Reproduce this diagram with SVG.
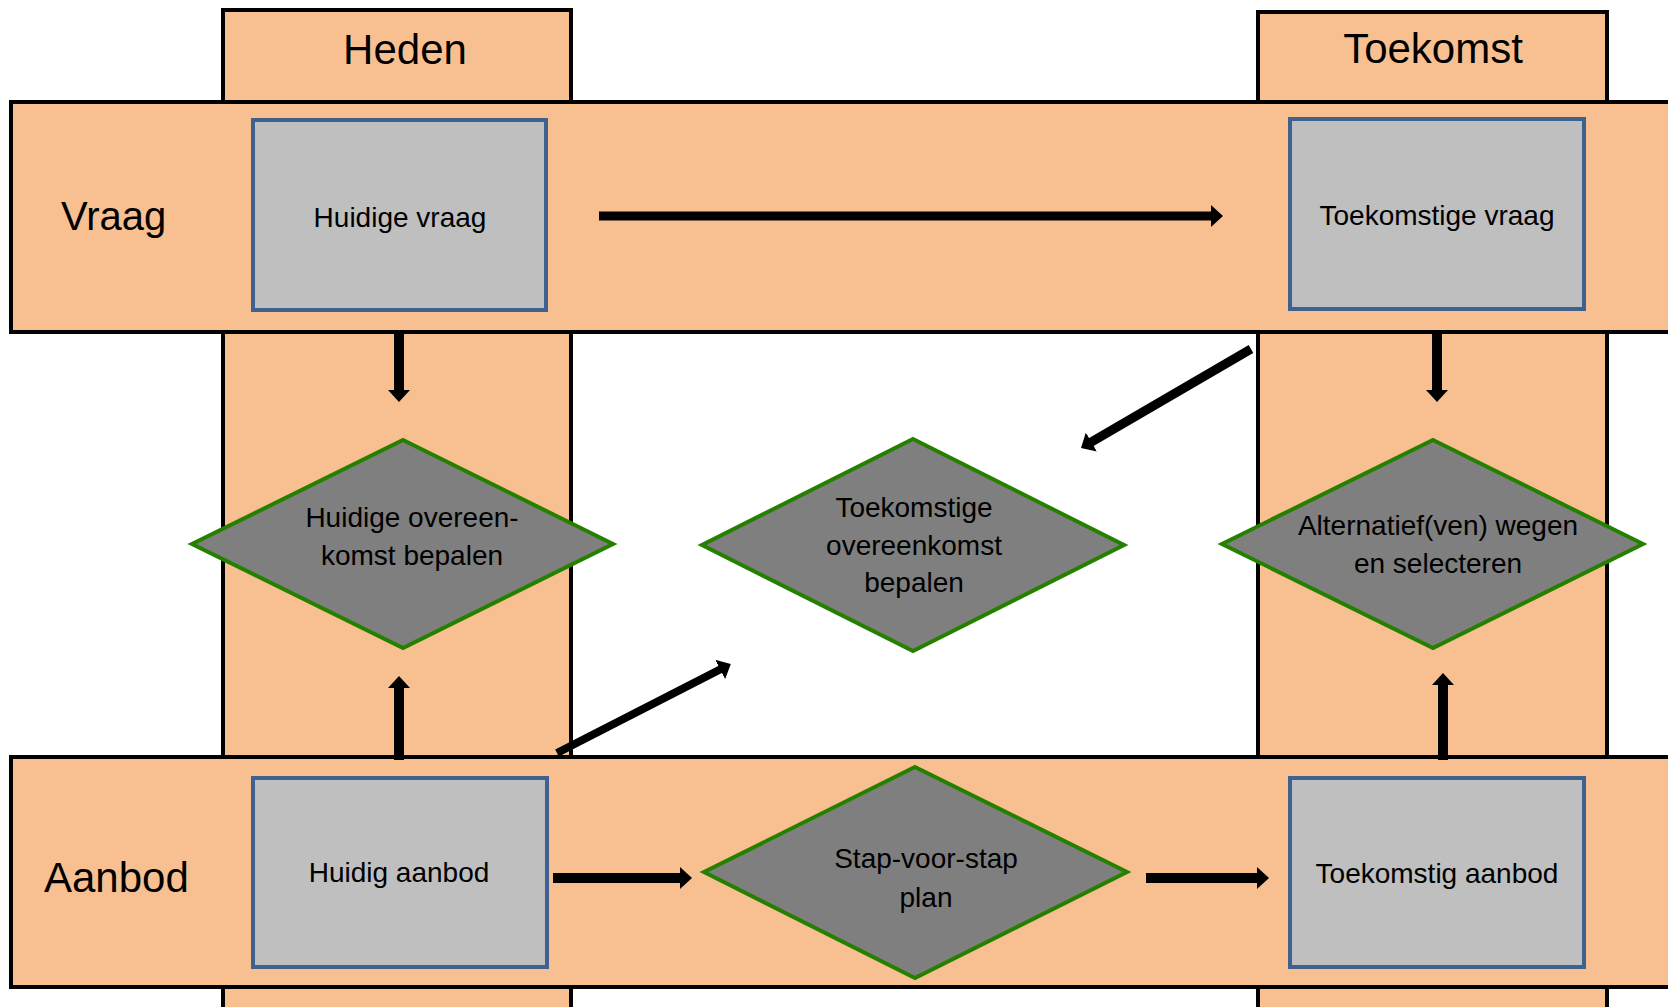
<svg xmlns="http://www.w3.org/2000/svg" width="1668" height="1007" viewBox="0 0 1668 1007">
<style>
.lane{fill:#F8C090;stroke:#000;stroke-width:4}
.box{fill:#BFBFBF;stroke:#3F6190;stroke-width:4}
.dia{fill:#7F7F7F;stroke:#268000;stroke-width:4;stroke-linejoin:miter}
text{font-family:"Liberation Sans",Arial,sans-serif;fill:#000}
.big{font-size:42px}
.t{font-size:28px;text-anchor:middle}
.arr{stroke:#000;fill:none;marker-end:url(#ah)}
</style>
<defs>
<marker id="ah" viewBox="0 0 12 22" markerWidth="12" markerHeight="22" refX="1" refY="11" orient="auto" markerUnits="userSpaceOnUse">
<path d="M0,0 L12,11 L0,22 z" fill="#000"/>
</marker>
</defs>
<rect width="1668" height="1007" fill="#fff"/>
<g id="lanes">
<g id="col-heden"><rect class="lane" x="223" y="10" width="348" height="1010"/></g>
<g id="col-toekomst"><rect class="lane" x="1258" y="12" width="349" height="1010"/></g>
<g id="band-vraag"><rect class="lane" x="11" y="102" width="1680" height="230"/></g>
<g id="band-aanbod"><rect class="lane" x="11" y="757" width="1680" height="230"/></g>
<text class="big" x="405" y="64" text-anchor="middle" font-size="43">Heden</text>
<text class="big" x="1433" y="63" text-anchor="middle">Toekomst</text>
<text class="big" x="61" y="230" style="font-size:40px">Vraag</text>
<text class="big" x="44" y="892">Aanbod</text>
</g>
<g id="connectors">
<line class="arr" x1="599" y1="216" x2="1212" y2="216" stroke-width="9"/>
<line class="arr" x1="399" y1="330" x2="399" y2="391" stroke-width="10"/>
<line class="arr" x1="1437" y1="330" x2="1437" y2="391" stroke-width="10"/>
<line class="arr" x1="399" y1="760" x2="399" y2="687" stroke-width="10"/>
<line class="arr" x1="1443" y1="760" x2="1443" y2="684" stroke-width="10"/>
<line class="arr" x1="553" y1="878" x2="681" y2="878" stroke-width="10"/>
<line class="arr" x1="1146" y1="878" x2="1258" y2="878" stroke-width="10"/>
<line class="arr" x1="557" y1="753" x2="721" y2="669" stroke-width="8"/>
<line class="arr" x1="1251" y1="349" x2="1090.5" y2="442.5" stroke-width="9"/>
</g>
<g id="huidige-vraag"><rect class="box" x="253" y="120" width="293" height="190"/><text class="t" x="400" y="227">Huidige vraag</text></g>
<g id="toekomstige-vraag"><rect class="box" x="1290" y="119" width="294" height="190"/><text class="t" x="1437" y="225">Toekomstige vraag</text></g>
<g id="huidig-aanbod"><rect class="box" x="253" y="778" width="294" height="189"/><text class="t" x="399" y="882">Huidig aanbod</text></g>
<g id="toekomstig-aanbod"><rect class="box" x="1290" y="778" width="294" height="189"/><text class="t" x="1437" y="883">Toekomstig aanbod</text></g>
<g id="huidige-overeenkomst"><polygon class="dia" points="403,440 613,544 403,648 192,544"/><text class="t" x="412" y="527">Huidige overeen-</text><text class="t" x="412" y="565">komst bepalen</text></g>
<g id="toekomstige-overeenkomst"><polygon class="dia" points="913,439 1124,545 913,651 702,545"/><text class="t" x="914" y="517">Toekomstige</text><text class="t" x="914" y="555">overeenkomst</text><text class="t" x="914" y="592">bepalen</text></g>
<g id="alternatieven"><polygon class="dia" points="1433,440 1643,544 1433,648 1222,544"/><text class="t" x="1438" y="535">Alternatief(ven) wegen</text><text class="t" x="1438" y="573">en selecteren</text></g>
<g id="stap-voor-stap"><polygon class="dia" points="915,767 1127,872 915,978 704,872"/><text class="t" x="926" y="868">Stap-voor-stap</text><text class="t" x="926" y="907">plan</text></g>
</svg>
